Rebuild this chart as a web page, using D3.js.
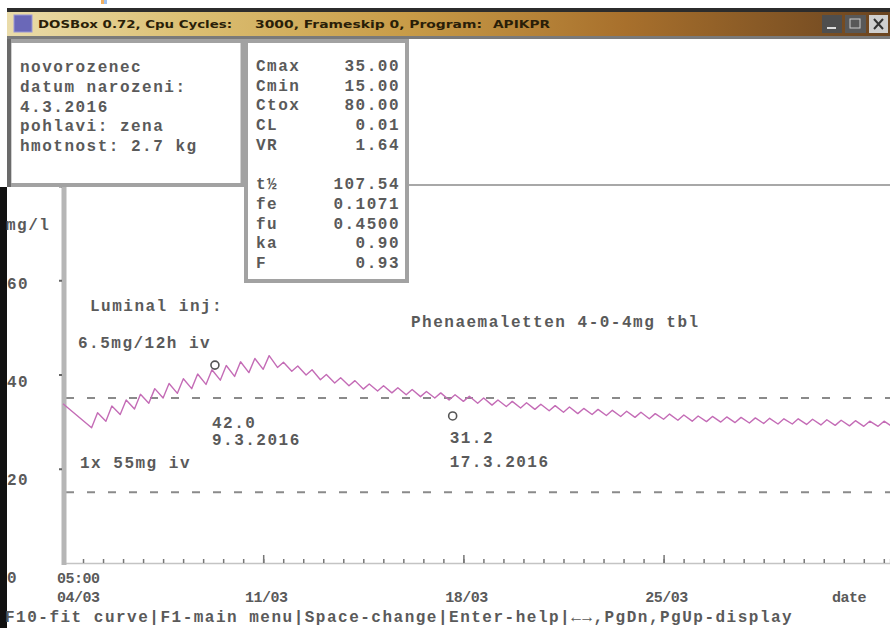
<!DOCTYPE html>
<html>
<head>
<meta charset="utf-8">
<script src="https://cdn.jsdelivr.net/npm/d3@7"></script>
<style>
  body { margin: 0; background: #fff; }
  svg { display: block; }
  .t { font-family: "Liberation Mono", "DejaVu Sans Mono", monospace; font-size: 16px; font-weight: bold; letter-spacing: 1.5px; fill: #5a5a5a; }
  .s { font-family: "Liberation Mono", "DejaVu Sans Mono", monospace; font-size: 15px; font-weight: bold; letter-spacing: -0.5px; fill: #5a5a5a; }
  .ttl { font-family: "DejaVu Sans", sans-serif; font-size: 11px; font-weight: bold; fill: #2a1e08; }
</style>
</head>
<body>
<svg id="c" width="890" height="628"></svg>
<script>
// ---- data ----------------------------------------------------------
const startTime = new Date(2016, 2, 4, 5, 0);
const endTime = new Date(2016, 3, 2, 3, 0);

const patientLines = ["novorozenec", "datum narozeni:", "4.3.2016", "pohlavi: zena", "hmotnost: 2.7 kg"];
const paramNames = ["Cmax", "Cmin", "Ctox", "CL", "VR", "", "t½", "fe", "fu", "ka", "F"];
const paramValues = ["35.00", "15.00", "80.00", "0.01", "1.64", "", "107.54", "0.1071", "0.4500", "0.90", "0.93"];

const cMax = 35;
const cMin = 15;
const yTickValues = [0, 20, 40, 60];
const yAxisTicks = [20, 40, 60, 80];
const weekTicks = [new Date(2016, 2, 11, 5), new Date(2016, 2, 18, 5), new Date(2016, 2, 25, 5)];

// simulated level: [hours since start, mg/l]
const levelCurve = [
  [0, 33.8], [24, 28.7], [29, 31.9], [36, 30.1], [41, 33.3], [48, 31.5], [53, 34.6],
  [60, 32.7], [65, 35.8], [72, 33.9], [77, 37.0], [84, 35.0], [89, 38.1], [96, 36.0],
  [101, 39.1], [108, 37.0], [113, 40.1], [120, 37.9], [125, 41.0], [132, 38.8], [137, 41.9],
  [144, 39.6], [149, 42.7], [156, 40.4], [161, 43.4], [168, 41.1], [173, 44.0],
  [180, 41.5], [185, 42.6], [192, 40.7], [197, 41.8], [204, 39.9], [209, 41.0],
  [216, 38.9], [221, 40.0], [228, 38.2], [233, 39.3], [240, 37.6], [245, 38.7],
  [252, 36.9], [257, 38.0], [264, 36.5], [269, 37.6], [276, 36.1], [281, 37.2],
  [288, 35.7], [293, 36.8], [300, 35.3], [305, 36.4], [312, 35.0], [317, 36.1],
  [324, 34.6], [329, 35.7], [336, 34.3], [341, 35.4], [348, 33.9], [353, 35.0],
  [360, 33.5], [365, 34.6], [372, 33.2], [377, 34.3], [384, 32.9], [389, 34.0],
  [396, 32.6], [401, 33.7], [408, 32.3], [413, 33.4], [420, 32.0], [425, 33.1],
  [432, 31.7], [437, 32.8], [444, 31.5], [449, 32.6], [456, 31.3], [461, 32.4],
  [468, 31.1], [473, 32.2], [480, 30.9], [485, 32.0], [492, 30.6], [497, 31.7],
  [504, 30.5], [509, 31.6], [516, 30.3], [521, 31.4], [528, 30.1], [533, 31.2],
  [540, 30.0], [545, 31.1], [552, 29.9], [557, 31.0], [564, 29.8], [569, 30.9],
  [576, 29.7], [581, 30.8], [588, 29.6], [593, 30.7], [600, 29.5], [605, 30.6],
  [612, 29.5], [617, 30.6], [624, 29.4], [629, 30.5], [636, 29.3], [641, 30.4],
  [648, 29.2], [653, 30.3], [660, 29.1], [665, 30.2], [672, 29.0], [677, 30.1],
  [684, 29.0], [689, 30.1], [696, 28.9]
];

const sampleDates = [new Date(2016, 2, 9, 12, 30), new Date(2016, 2, 17, 20, 0)];
const sampleLevels = [42.0, 31.2];
const sampleLabels = ["9.3.2016", "17.3.2016"];

const titleParts = ["DOSBox 0.72, Cpu Cycles:", "3000, Frameskip  0, Program:", "APIKPR"];
const statusLine = "F10-fit curve|F1-main menu|Space-change|Enter-help|←→,PgDn,PgUp-display";

// ---- layout helpers ------------------------------------------------
const svg = d3.select("#c");
const rowTop = 68, rowH = 19.6;        // text cell grid of the program screen
const rowY = r => rowTop + r * rowH;
const snapRow = v => rowY(Math.ceil((v - rowTop) / rowH));
const base = 5;                          // baseline offset from row centre

const x = d3.scaleTime().domain([startTime, endTime]).range([63, 890]);
const y = d3.scaleLinear().domain([0, 80]).range([563, 186]);
const atHour = h => new Date(+startTime + h * 3600e3);

// ---- window chrome -------------------------------------------------
const defs = svg.append("defs");
const g = defs.append("linearGradient").attr("id", "bar").attr("x1", 0).attr("x2", 1);
[[0, "#eadcaa"], [0.2, "#dcc074"], [0.45, "#c89c48"], [0.7, "#a8702c"], [1, "#6a4420"]]
  .forEach(([o, c]) => g.append("stop").attr("offset", o).attr("stop-color", c));

svg.append("rect").attr("x", 0).attr("y", 0).attr("width", 890).attr("height", 628).attr("fill", "#fff");
svg.append("rect").attr("x", 101).attr("y", 0).attr("width", 4).attr("height", 4).attr("fill", "#f2b060");
svg.append("rect").attr("x", 104).attr("y", 0).attr("width", 3).attr("height", 4).attr("fill", "#9cc0f0");
svg.append("rect").attr("x", 7).attr("y", 8).attr("width", 883).attr("height", 4).attr("fill", "#2c2c2c");
svg.append("rect").attr("x", 7).attr("y", 12).attr("width", 883).attr("height", 24).attr("fill", "url(#bar)");
svg.append("rect").attr("x", 7).attr("y", 36).attr("width", 883).attr("height", 3).attr("fill", "#7a7a7a");
// window icon
svg.append("rect").attr("x", 14).attr("y", 15).attr("width", 18).attr("height", 17).attr("fill", "#6a68b8").attr("stroke", "#9a98d8");
// title text
[[38, 194], [255, 227], [493, 57]].forEach(([tx, tl], i) =>
  svg.append("text").attr("class", "ttl").attr("x", tx).attr("y", 28)
    .attr("textLength", tl).attr("lengthAdjust", "spacingAndGlyphs").text(titleParts[i]));
// window buttons
svg.append("rect").attr("x", 822).attr("y", 15).attr("width", 20).attr("height", 18).attr("fill", "#4e4e4e");
svg.append("rect").attr("x", 827).attr("y", 27).attr("width", 9).attr("height", 2).attr("fill", "#ddd");
svg.append("rect").attr("x", 845).attr("y", 15).attr("width", 21).attr("height", 18).attr("fill", "#585858");
svg.append("rect").attr("x", 850).attr("y", 19).attr("width", 10).attr("height", 9).attr("fill", "none").attr("stroke", "#ccc");
svg.append("rect").attr("x", 869).attr("y", 15).attr("width", 19).attr("height", 18).attr("fill", "#cfcfcf");
svg.append("path").attr("d", "M874,19L883,29M883,19L874,29").attr("stroke", "#333").attr("stroke-width", 2);

// left screen border
svg.append("rect").attr("x", 0).attr("y", 187).attr("width", 7).attr("height", 441).attr("fill", "#111");

// ---- plot ----------------------------------------------------------
// top frame
svg.append("line").attr("x1", 63).attr("x2", 890).attr("y1", y(80) - 1).attr("y2", y(80) - 1)
  .attr("stroke", "#a8a8a8").attr("stroke-width", 2);

// limit lines
svg.selectAll(".lim").data([cMax, cMin]).join("line").attr("class", "lim")
  .attr("x1", 66).attr("x2", 890).attr("y1", d => y(d)).attr("y2", d => y(d))
  .attr("stroke", "#8a8a8a").attr("stroke-width", 2).attr("stroke-dasharray", "8 13");

// x axis: 10 ticks per week, longer tick each week
const minorTicks = d3.range(0, 29, 0.7).map(dd => new Date(+startTime + dd * 864e5));
const xAxis = svg.append("g").attr("transform", `translate(0,${y(0)})`)
  .call(d3.axisBottom(x).tickValues(minorTicks).tickSize(-4).tickFormat(""));
xAxis.select(".domain").attr("stroke", "#c4c4c4").attr("stroke-width", 1.5);
xAxis.selectAll(".tick line").attr("stroke", "#777").attr("stroke-width", 1.5);
svg.append("g").attr("transform", `translate(0,${y(0)})`)
  .call(d3.axisBottom(x).tickValues(weekTicks).tickSize(-8).tickFormat(""))
  .call(a => a.select(".domain").remove())
  .selectAll(".tick line").attr("stroke", "#777").attr("stroke-width", 1.5);

// y axis
svg.append("line").attr("x1", 64).attr("x2", 64).attr("y1", y(80) - 2).attr("y2", y(0) + 2)
  .attr("stroke", "#b6b6b6").attr("stroke-width", 5);
svg.append("g").attr("transform", "translate(62,0)")
  .call(d3.axisLeft(y).tickValues(yAxisTicks).tickSize(3).tickFormat(""))
  .call(a => a.select(".domain").remove())
  .selectAll(".tick line").attr("stroke", "#666").attr("stroke-width", 2);

// level curve
svg.append("path").datum(levelCurve)
  .attr("fill", "none").attr("stroke", "#c46cb6").attr("stroke-width", 1.4).attr("stroke-linejoin", "round")
  .attr("d", d3.line().x(d => x(atHour(d[0]))).y(d => y(d[1])));

// measured levels
svg.selectAll(".smp").data(sampleDates).join("circle").attr("class", "smp")
  .attr("cx", d => x(d)).attr("cy", (d, i) => y(sampleLevels[i])).attr("r", 4)
  .attr("fill", "#fff").attr("stroke", "#555").attr("stroke-width", 1.6);
const labelRows = [[423, 440], [438, 462]];
sampleDates.forEach((d, i) => {
  svg.append("text").attr("class", "t").attr("x", x(d) - 3).attr("y", labelRows[i][0] + base).text(sampleLevels[i].toFixed(1));
  svg.append("text").attr("class", "t").attr("x", x(d) - 3).attr("y", labelRows[i][1] + base).text(sampleLabels[i]);
});

// therapy notes
svg.append("text").attr("class", "t").attr("x", 90).attr("y", 306 + base).text("Luminal inj:");
svg.append("text").attr("class", "t").attr("x", 78).attr("y", 343 + base).text("6.5mg/12h iv");
svg.append("text").attr("class", "t").attr("x", 80).attr("y", 463 + base).text("1x 55mg iv");
svg.append("text").attr("class", "t").attr("x", 411).attr("y", 322 + base).text("Phenaemaletten 4-0-4mg tbl");

// y labels
svg.append("text").attr("class", "t").attr("x", 6).attr("y", rowY(8) + base).text("mg/l");
yTickValues.forEach(v =>
  svg.append("text").attr("class", "t").attr("x", 7).attr("y", snapRow(y(v)) + base).text(v));

// x labels
const dayFmt = d3.timeFormat("%d/%m");
svg.append("text").attr("class", "s").attr("x", x(startTime) - 6).attr("y", rowY(26) + base).text(d3.timeFormat("%H:%M")(startTime));
svg.append("text").attr("class", "s").attr("x", x(startTime) - 6).attr("y", rowY(27) + base).text(dayFmt(startTime));
weekTicks.forEach(d =>
  svg.append("text").attr("class", "s").attr("x", x(d) + 3).attr("y", rowY(27) + base)
    .attr("text-anchor", "middle").text(dayFmt(d)));
svg.append("text").attr("class", "s").attr("x", 832).attr("y", rowY(27) + base).text("date");

// status line
svg.append("text").attr("class", "t").attr("x", 5).attr("y", rowY(28) + base).text(statusLine);

// ---- info boxes ----------------------------------------------------
svg.append("rect").attr("x", 9.5).attr("y", 41).attr("width", 233).attr("height", 144)
  .attr("fill", "#fff").attr("stroke", "#a2a2a2").attr("stroke-width", 4);
svg.append("line").attr("x1", 9).attr("x2", 9).attr("y1", 39).attr("y2", 187).attr("stroke", "#6a6a6a").attr("stroke-width", 4);
patientLines.forEach((s, i) =>
  svg.append("text").attr("class", "t").attr("x", 20).attr("y", 67 + i * 19.8 + base).text(s));

svg.append("rect").attr("x", 246).attr("y", 41).attr("width", 161).attr("height", 240)
  .attr("fill", "#fff").attr("stroke", "#a2a2a2").attr("stroke-width", 4);
paramNames.forEach((s, i) => {
  if (!s) return;
  const ty = 66 + i * 19.7 + base;
  svg.append("text").attr("class", "t").attr("x", 256).attr("y", ty).text(s);
  svg.append("text").attr("class", "t").attr("x", 400).attr("y", ty).attr("text-anchor", "end").text(paramValues[i]);
});
</script>
</body>
</html>
